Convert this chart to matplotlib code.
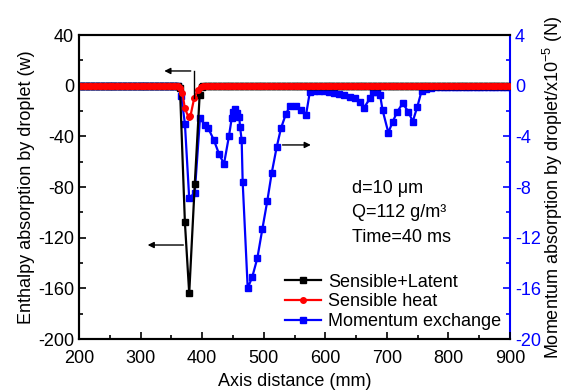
import numpy as np
import matplotlib
matplotlib.use("Agg")
import matplotlib.pyplot as plt

plt.rcParams['font.family'] = ['Liberation Sans', 'DejaVu Sans']
plt.rcParams['mathtext.fontset'] = 'custom'
plt.rcParams['mathtext.rm'] = 'Liberation Sans'
plt.rcParams['mathtext.it'] = 'Liberation Sans:italic'
plt.rcParams['axes.unicode_minus'] = False

# sampling positions of the flat (zero) stretches, mm
flat_left_x = np.arange(200, 362, 4)
flat_right_x = np.arange(402, 902, 4)

# Sensible+Latent (W) in the dip
sl_dip_x = [364, 372, 379, 388, 396, 399]
sl_dip_y = [-2, -108, -164, -78, -7, -1]

# Sensible heat (W) in the dip
sh_dip_x = [364, 368, 372, 378, 381, 387, 393, 398]
sh_dip_y = [-1.5, -6, -18, -25, -24, -10, -3.4, -1]

# Momentum exchange (x1e-5 N)
mom_flat_x = np.arange(200, 364, 4)
mom_x = [366, 372, 379, 388, 396.5, 404.6, 410, 419, 427.4, 435.5, 443.6, 448,
         450.6, 453.4, 457, 460.4, 461.5, 464.2, 465.8, 474, 481.5, 489.6,
         497.7, 505.9, 512.9, 521, 528, 536, 542.7, 552.4, 560, 568.7, 575,
         582, 590, 598, 606, 614, 622, 630, 640, 648, 656, 663, 672.6, 678,
         684.5, 689, 693, 702.4, 709.5, 717, 725.7, 735, 742, 749.5, 756.5,
         764, 772]
mom_y = [-0.8, -3.0, -8.9, -8.45, -2.58, -3.1, -3.37, -4.29, -5.39, -6.18, -3.97, -2.58,
         -2.05, -1.87, -2.18, -2.5, -3.24, -4.29, -7.58, -16.0, -15.08, -13.63,
         -11.34, -9.08, -6.92, -4.87, -3.37, -2.24, -1.6, -1.6, -1.92, -2.32, -0.47,
         -0.42, -0.4, -0.45, -0.5, -0.6, -0.68, -0.75, -0.87, -0.95, -1.27, -1.74, -1.0, -0.53,
         -0.5, -0.74, -1.92, -3.71, -2.84, -2.05, -1.4, -2.05, -2.84, -1.66, -0.4,
         -0.3, -0.22]
mom_tail_x = np.arange(780, 902, 6)

sl_x = np.concatenate([flat_left_x, sl_dip_x, flat_right_x])
sl_y = np.concatenate([np.zeros(len(flat_left_x)), sl_dip_y, np.zeros(len(flat_right_x))])
sh_x = np.concatenate([flat_left_x, sh_dip_x, flat_right_x])
sh_y = np.concatenate([np.zeros(len(flat_left_x)), sh_dip_y, np.zeros(len(flat_right_x))])
mx = np.concatenate([mom_flat_x, mom_x, mom_tail_x])
my = np.concatenate([np.zeros(len(mom_flat_x)), mom_y, np.full(len(mom_tail_x), -0.1)])

fig = plt.figure(figsize=(5.65, 3.9), dpi=100)
ax1 = fig.add_axes([79/565, 1-339/390, (510-79)/565, (339-35)/390])
ax2 = ax1.twinx()
ax1.set_zorder(2)
ax1.patch.set_visible(False)

l3, = ax2.plot(mx, my, color='blue', marker='s', markersize=5, lw=1.6,
               label='Momentum exchange')
l1, = ax1.plot(sl_x, sl_y, color='black', marker='s', markersize=4.5, lw=1.6,
               label='Sensible+Latent')
l2, = ax1.plot(sh_x, sh_y, color='red', marker='o', markersize=4, lw=1.6,
               label='Sensible heat')

ax1.set_xlim(200, 900)
ax1.set_ylim(-200, 40)
ax2.set_ylim(-20, 4)
ax1.set_xticks(np.arange(200, 901, 100))
ax1.set_xticks(np.arange(250, 900, 100), minor=True)
ax1.set_yticks(np.arange(-200, 41, 40))
ax1.set_yticks(np.arange(-180, 40, 40), minor=True)
ax2.set_yticks(np.arange(-20, 5, 4))
ax2.set_yticks(np.arange(-18, 4, 4), minor=True)

ax1.tick_params(which='both', direction='in', labelsize=13, right=False, top=False)
ax1.tick_params(which='major', length=5, width=1.2)
ax1.tick_params(which='minor', length=3, width=1.2)
ax1.tick_params(axis='x', which='major', pad=8)
ax2.tick_params(which='both', direction='in', labelsize=13, colors='blue')
ax2.tick_params(which='major', length=5, width=1.2)
ax2.tick_params(which='minor', length=3, width=1.2)

for sp in ax1.spines.values():
    sp.set_linewidth(1.5)
ax1.spines['right'].set_visible(False)
for sp in ax2.spines.values():
    sp.set_linewidth(1.5)
ax2.spines['right'].set_color('blue')

ax1.set_xlabel('Axis distance (mm)', fontsize=13, labelpad=4)
ax1.set_ylabel('Enthalpy absorption by droplet (w)', fontsize=13, labelpad=2)
ax2.set_ylabel('Momentum absorption by droplet/x10$^{\\mathrm{-5}}$ (N)', fontsize=13, labelpad=0)

# guide arrows
arr = dict(arrowstyle='-|>', color='black', lw=1, mutation_scale=9)
ax1.plot([386, 386], [11.6, -9.7], color='black', lw=1)
ax1.annotate('', xy=(334, 11.6), xytext=(386, 11.6), arrowprops=arr)
ax1.annotate('', xy=(307, -125.8), xytext=(374, -125.8), arrowprops=arr)
ax1.annotate('', xy=(581, -46.8), xytext=(526, -46.8), arrowprops=arr)

ax1.text(643, -80.8, 'd=10 μm', fontsize=13, va='center', ha='left')
ax1.text(643, -100.5, 'Q=112 g/m³', fontsize=13, va='center', ha='left')
ax1.text(643, -119.5, 'Time=40 ms', fontsize=13, va='center', ha='left')

ax1.legend(handles=[l1, l2, l3], loc='lower right', bbox_to_anchor=(1.0, 0.0),
           frameon=False, fontsize=13, handlelength=2.0, handletextpad=0.4,
           labelspacing=0.15, borderaxespad=0.3, borderpad=0.2)

fig.savefig('out.png', dpi=100)
